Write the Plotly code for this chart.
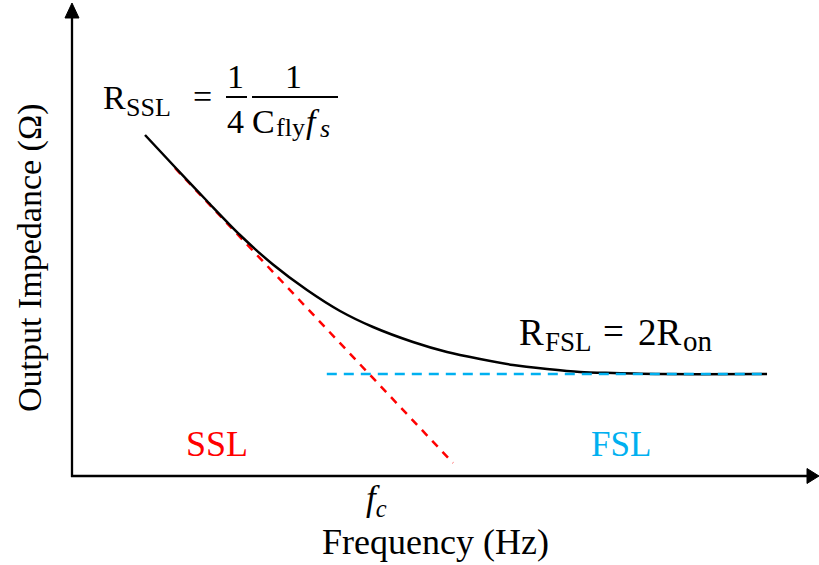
import plotly.graph_objects as go

# ---- data (arbitrary schematic units) ----
freq_curve = [1.043, 1.443, 1.929, 2.400, 2.871, 3.357, 3.829, 4.300, 4.871,
              5.357, 5.829, 6.300, 6.786, 7.257, 7.729, 8.400, 9.929]
imp_curve = [7.255, 6.617, 5.851, 5.128, 4.500, 3.957, 3.511, 3.170, 2.851,
             2.638, 2.489, 2.362, 2.277, 2.213, 2.191, 2.170, 2.170]
ssl_freq = [1.471, 5.443]
ssl_imp = [6.553, 0.277]
fsl_freq = [3.64, 9.93]
fsl_imp = [2.17, 2.17]

W, H = 819, 565
X0, Y0, SX, SY = 72, 476, 70.0, 47.0  # pixel origin and scale of the axes


def P(px, py):
    return px / W, 1 - py / H


FONT = "Liberation Serif, Times New Roman, serif"
RED = "#FF0000"
CYAN = "#00B0F0"

fig = go.Figure()
fig.add_trace(go.Scatter(x=ssl_freq, y=ssl_imp, mode="lines",
                         line=dict(color=RED, width=2.5, dash="8px,7px"),
                         hoverinfo="skip"))
fig.add_trace(go.Scatter(x=freq_curve, y=imp_curve, mode="lines",
                         line=dict(color="black", width=2.5, shape="spline", smoothing=0.8),
                         hoverinfo="skip"))
fig.add_trace(go.Scatter(x=fsl_freq, y=fsl_imp, mode="lines",
                         line=dict(color=CYAN, width=2.5, dash="10px,7px"),
                         hoverinfo="skip"))

anns = []


def txt(text, px, py, size, color="black", xanchor="center", yanchor="middle", angle=0):
    x, y = P(px, py)
    anns.append(dict(text=text, x=x, y=y, xref="paper", yref="paper", showarrow=False,
                     xanchor=xanchor, yanchor=yanchor, textangle=angle,
                     borderpad=0, borderwidth=0,
                     font=dict(family=FONT, size=size, color=color)))


# formula R_SSL = 1/4 * 1/(C_fly f_s)
txt("R", 103, 97.5, 34, xanchor="left")
txt("SSL", 126, 107.5, 26, xanchor="left")
txt("=", 202, 97, 34)
txt("1", 236, 76.5, 34)
txt("4", 236, 121.5, 34)
txt("1", 293, 76.5, 34)
txt("C", 252, 121.5, 34, xanchor="left")
txt("fly", 276, 127, 26, xanchor="left")
txt("<i>f</i>", 306, 121.5, 34, xanchor="left")
txt("<i>s</i>", 320, 129, 26, xanchor="left")

# R_FSL = 2R_on
txt("R", 519, 332, 37, xanchor="left")
txt("FSL", 545, 342, 27, xanchor="left")
txt("=", 613, 331, 37)
txt("2R", 638, 332, 37, xanchor="left")
txt("on", 683, 341, 29, xanchor="left")

txt("SSL", 217, 444, 36, color=RED)
txt("FSL", 621, 444, 35, color=CYAN)
txt("<i>f<sub>c</sub></i>", 376, 500, 35)
txt("Frequency (Hz)", 435, 542, 36)
txt("Output Impedance (Ω)", 30, 258, 34, angle=-90)


def line(xa, ya, xb, yb, width=2):
    a = P(xa, ya)
    b = P(xb, yb)
    return dict(type="line", xref="paper", yref="paper", x0=a[0], y0=a[1], x1=b[0], y1=b[1],
                line=dict(color="black", width=width))


def tri(pts):
    cs = [P(x, y) for x, y in pts]
    path = "M%f,%f L%f,%f L%f,%f Z" % (cs[0][0], cs[0][1], cs[1][0], cs[1][1], cs[2][0], cs[2][1])
    return dict(type="path", xref="paper", yref="paper", path=path,
                fillcolor="black", line=dict(color="black", width=1))


shapes = [
    line(226, 97, 247, 97), line(252, 97, 338, 97),       # fraction bars
    line(71, 476, 810, 476, 2.3), line(72, 477, 72, 16, 2.3),  # axes
    tri([(807, 468.5), (807, 483.5), (819, 476)]),
    tri([(65, 18), (79, 18), (72, 3)]),
]

fig.update_layout(
    width=W, height=H, margin=dict(l=0, r=0, t=0, b=0),
    paper_bgcolor="white", plot_bgcolor="white", showlegend=False,
    xaxis=dict(range=[-X0 / SX, (W - X0) / SX], visible=False, fixedrange=True),
    yaxis=dict(range=[-(H - Y0) / SY, Y0 / SY], visible=False, fixedrange=True),
    annotations=anns, shapes=shapes,
)

fig.write_html("out.html", config=dict(displayModeBar=False, staticPlot=True))
